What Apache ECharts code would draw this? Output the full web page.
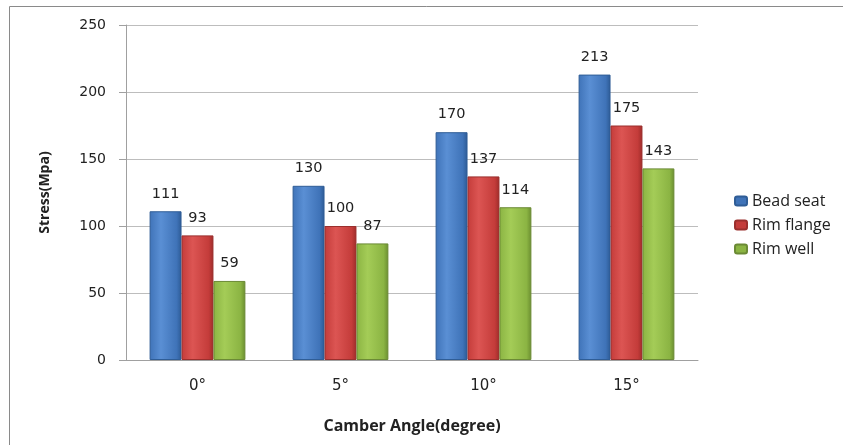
<!DOCTYPE html>
<html>
<head>
<meta charset="utf-8">
<script src="https://cdn.jsdelivr.net/npm/echarts@6/dist/echarts.min.js"></script>
<style>
  html, body { margin: 0; padding: 0; background: #fff; }
  #chart { width: 843px; height: 445px; }
</style>
</head>
<body>
<div id="chart"></div>
<script>
// Camber angle categories and stress per rim location (MPa)
const categories = ['0°', '5°', '10°', '15°'];
const beadSeat = [111, 130, 170, 213];
const rimFlange = [93, 100, 137, 175];
const rimWell = [59, 87, 114, 143];
const yTicks = { min: 0, max: 250, interval: 50 };

function barFill(light, mid, dark) {
  return new echarts.graphic.LinearGradient(0, 0, 1, 0, [
    { offset: 0, color: mid },
    { offset: 0.35, color: light },
    { offset: 0.85, color: mid },
    { offset: 1, color: dark }
  ]);
}

function makeSeries(name, data, fill, border) {
  return {
    name: name,
    type: 'bar',
    data: data,
    barGap: '0%',
    barCategoryGap: '33%',
    itemStyle: { color: fill, borderColor: border, borderWidth: 1 },
    label: {
      show: true,
      position: 'top',
      distance: 10,
      color: '#222',
      fontFamily: 'DejaVu Sans',
      fontSize: 14.5
    }
  };
}

const chart = echarts.init(document.getElementById('chart'), null, { renderer: 'canvas' });
chart.setOption({
  backgroundColor: '#fff',
  animation: false,
  graphic: [{
    type: 'rect',
    shape: { x: 9.5, y: 6.5, width: 860, height: 460 },
    style: { fill: 'none', stroke: '#8a8a8a', lineWidth: 1 },
    silent: true
  }],
  grid: { left: 126, right: 145, top: 25, bottom: 85 },
  legend: {
    orient: 'vertical',
    left: 729,
    top: 188,
    itemWidth: 12,
    itemHeight: 9,
    itemGap: 8,
    textStyle: { fontFamily: 'Open Sans', fontSize: 16, color: '#222' },
    data: [
      { name: 'Bead seat', itemStyle: { color: '#3f73b8' } },
      { name: 'Rim flange', itemStyle: { color: '#c43c3a' } },
      { name: 'Rim well', itemStyle: { color: '#8bb443' } }
    ]
  },
  xAxis: {
    type: 'category',
    data: categories,
    name: 'Camber Angle(degree)',
    nameLocation: 'middle',
    nameGap: 58,
    nameTextStyle: { fontFamily: 'Open Sans', fontWeight: 'bold', fontSize: 16, color: '#222' },
    axisLine: { lineStyle: { color: '#a0a0a0' } },
    axisTick: { show: false },
    axisLabel: { fontFamily: 'DejaVu Sans', fontSize: 15, color: '#222', margin: 19 }
  },
  yAxis: {
    type: 'value',
    min: yTicks.min,
    max: yTicks.max,
    interval: yTicks.interval,
    name: 'Stress(Mpa)',
    nameLocation: 'middle',
    nameGap: 74,
    nameTextStyle: { fontFamily: 'Open Sans', fontWeight: 'bold', fontSize: 14, color: '#222' },
    axisLine: { show: true, lineStyle: { color: '#a0a0a0' } },
    axisTick: { show: true, length: 7, lineStyle: { color: '#a0a0a0' } },
    axisLabel: { fontFamily: 'DejaVu Sans', fontSize: 14, color: '#222', margin: 20 },
    splitLine: { lineStyle: { color: '#bdbdbd' } }
  },
  series: [
    makeSeries('Bead seat', beadSeat, barFill('#5a8fd4', '#3f73b8', '#2c5a94'), '#2f5d96'),
    makeSeries('Rim flange', rimFlange, barFill('#dc5553', '#c43c3a', '#9e2c2a'), '#9a2f2d'),
    makeSeries('Rim well', rimWell, barFill('#a4cc57', '#8bb443', '#6a8d2f'), '#6b8a35')
  ]
});
</script>
</body>
</html>
